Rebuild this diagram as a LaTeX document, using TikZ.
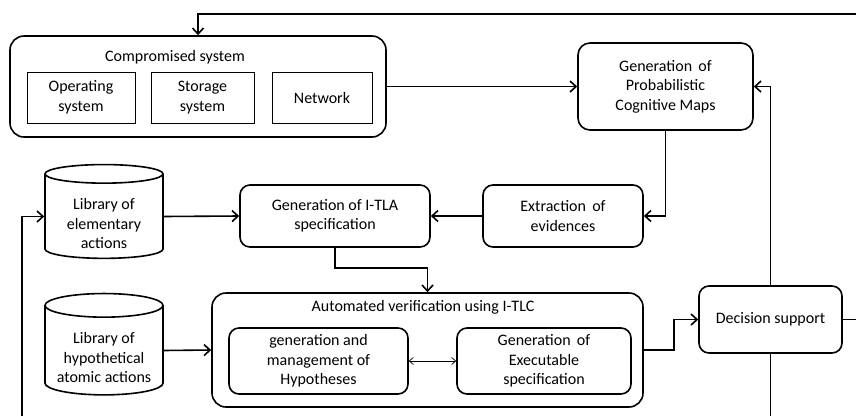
\documentclass[tikz,border=0pt]{standalone}
\usepackage{fontspec}
\setmainfont{Carlito}
\usepackage{tikz}
\usetikzlibrary{shapes.geometric,arrows.meta,positioning}

\newcommand{\dbstrut}{\rule{0pt}{26pt}}

\begin{document}
\begin{tikzpicture}[
  x=1pt, y=-1pt,
  font=\fontsize{16}{19.5}\selectfont,
  box/.style={rectangle, rounded corners=10pt, draw, line width=1.6pt,
              align=center, inner sep=0pt},
  subbox/.style={rectangle, draw, line width=1pt, align=center,
                 inner sep=0pt, minimum height=51pt},
  dbbox/.style={cylinder, shape border rotate=90, aspect=0.25, draw,
                line width=1.6pt, align=center, inner sep=0pt,
                minimum width=118pt},
  arr/.style={-{Straight Barb[length=6pt,width=11pt]}, line width=1.6pt},
  thinarr/.style={{Straight Barb[length=4pt,width=7pt]}-{Straight Barb[length=4pt,width=7pt]}, line width=0.7pt},
  wire/.style={line width=1.6pt},
]
  \useasboundingbox (0,0) rectangle (856,416);

  % compromised system
  \node[box, rounded corners=14pt, minimum width=376pt, minimum height=101pt] (cs) at (198,86.5) {};
  \node (cstitle) at (175,57) {Compromised system};
  \node[subbox, minimum width=108pt] (os) at (81,97.5) {Operating\\ system};
  \node[subbox, minimum width=103pt] (storage) at (202.5,97.5) {Storage\\ system};
  \node[subbox, minimum width=100pt] (net) at (322,97.5) {Network};

  \node[box, rounded corners=12pt, minimum width=175pt, minimum height=87pt] (pcm) at (665.5,86.5)
    {Generation\, of\\ Probabilistic\\ Cognitive Maps};

  % libraries
  \node[dbbox, minimum height=87pt] (libelem) at (104,216.5) {\dbstrut Library of\\ elementary\\ actions};
  \node[dbbox, minimum height=85pt] (libhyp) at (104,350.5) {\dbstrut Library of\\ hypothetical\\ atomic actions};

  \node[box, minimum width=190pt, minimum height=62pt] (itla) at (335,216) {Generation of I-TLA\\ specification};
  \node[box, minimum width=160pt, minimum height=62pt] (extract) at (563,216) {Extraction\, of\\ evidences};

  % verification
  \node[box, rounded corners=14pt, minimum width=431pt, minimum height=114pt] (av) at (427.5,350) {};
  \node (avtitle) at (423,307) {Automated verification using I-TLC};
  \node[box, minimum width=179pt, minimum height=66pt] (hyp) at (318.5,361) {generation and\\ management of\\ Hypotheses};
  \node[box, minimum width=174pt, minimum height=66pt] (exec) at (544,361) {Generation\, of\\ Executable\\ specification};

  \node[box, minimum width=143pt, minimum height=67pt] (ds) at (770.5,319.5) {Decision support};

  \coordinate (topR) at (856,14);
  \coordinate (rightR) at (856,319.5);
  \coordinate (botR) at (770.5,416);
  \coordinate (botL) at (22,416);

  \draw[arr] (topR) -| (cs.north);
  \draw[arr] (cs.east) -- (pcm.west);
  \draw[arr] (ds.north) |- (pcm.east);
  \draw[arr] (pcm.south) |- (extract.east);
  \draw[arr] (extract.west) -- (itla.east);
  \draw[arr] (libelem.east) -- (itla.west);
  \draw[arr] (botL) |- (libelem.west);
  \draw[arr] (itla.south) -- ++(0,20) -| (av.north);
  \draw[arr] (libhyp.east) -- (av.west);
  \draw[thinarr] (hyp.east) -- (exec.west);
  \draw[arr] (av.east) -- ++(30,0) |- (ds.west);
  \draw[wire] (ds.east) -- (rightR);
  \draw[wire] (ds.south) -- (botR);
\end{tikzpicture}
\end{document}
